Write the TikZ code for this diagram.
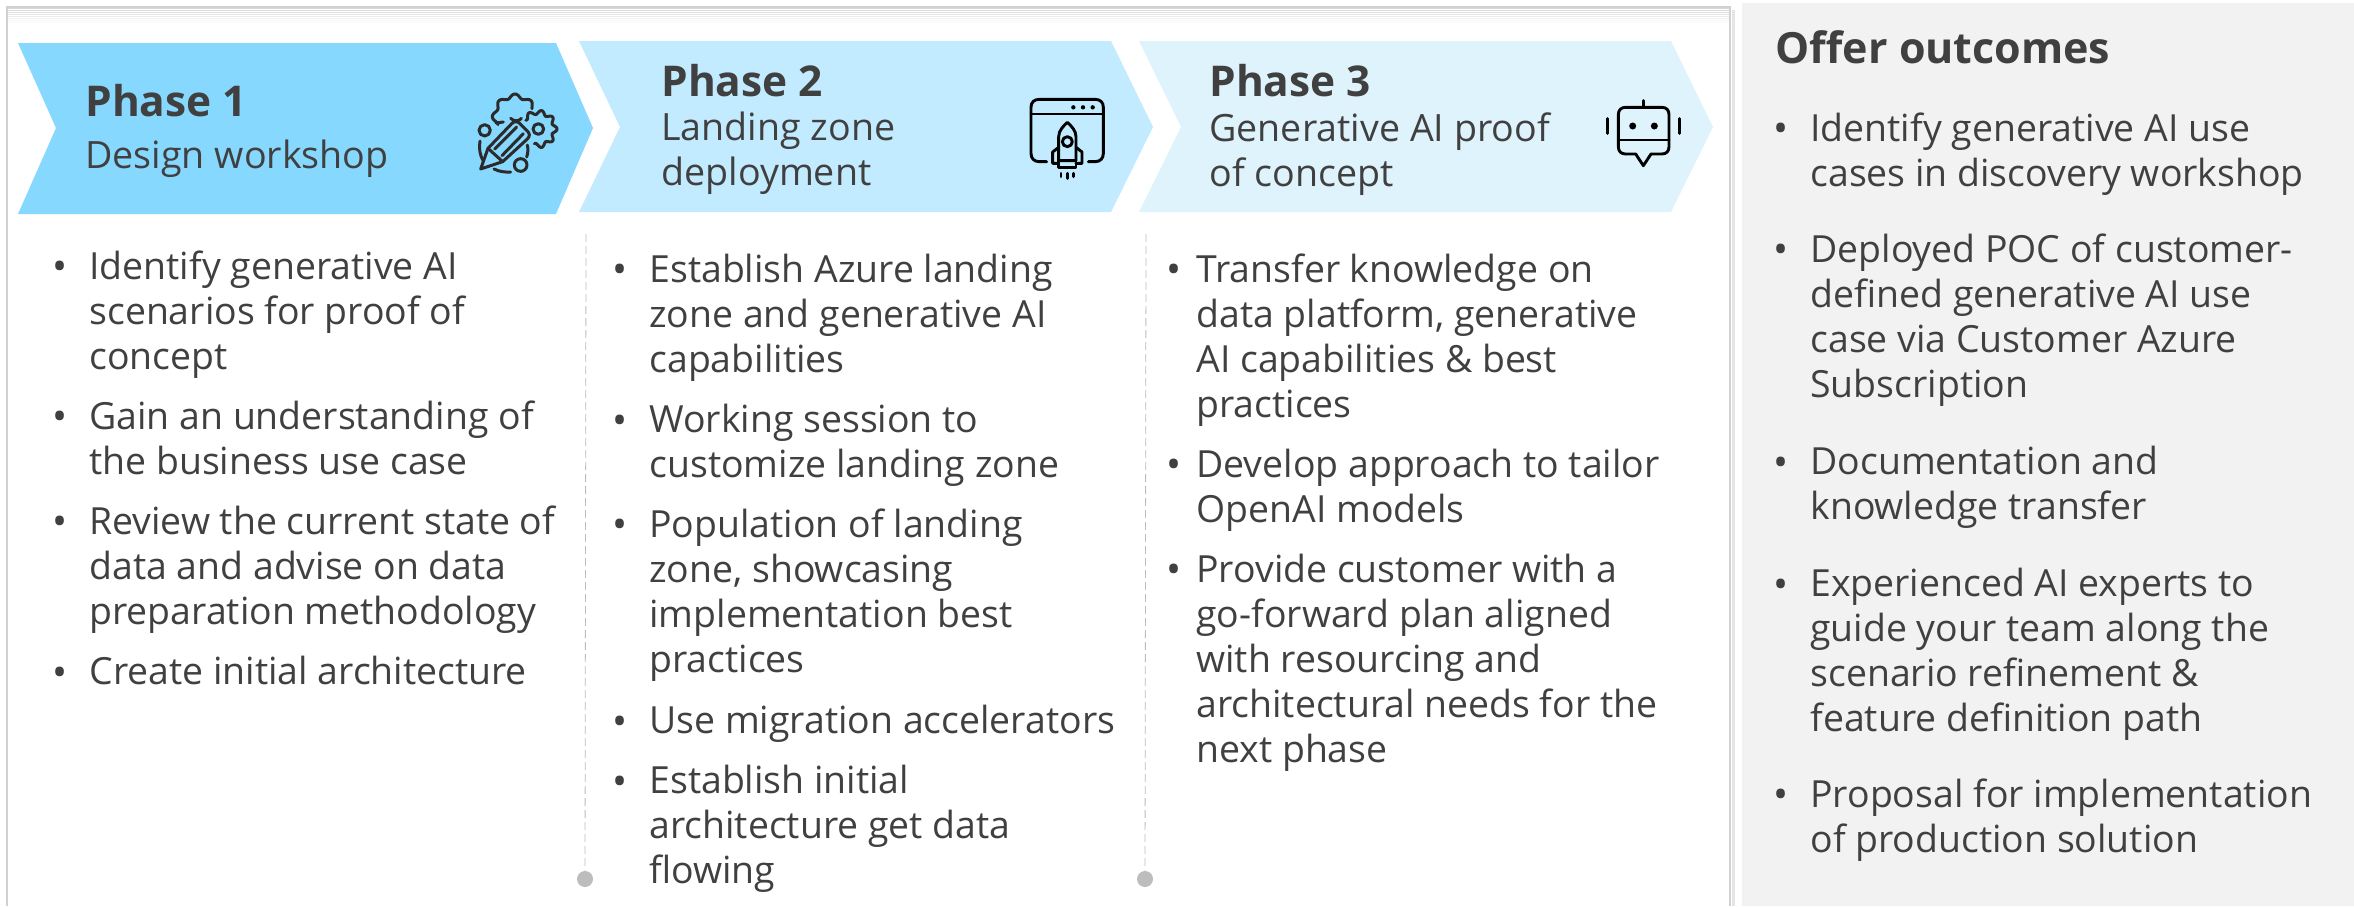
\documentclass[tikz,border=0pt]{standalone}
\usepackage{fontspec}
\setmainfont{Open Sans}
\usetikzlibrary{calc}
\definecolor{txt}{HTML}{404040}
\definecolor{aone}{HTML}{87D8FF}
\definecolor{atwo}{HTML}{C2EBFF}
\definecolor{athree}{HTML}{DFF3FD}
\definecolor{sidebg}{HTML}{F2F2F2}
\definecolor{dotc}{HTML}{BDBDBD}
\definecolor{inkc}{HTML}{2B2B2B}
\tikzset{
  body/.style={anchor=north west,inner sep=0pt,align=left,text=txt,font=\fontsize{18.7pt}{22.5pt}\selectfont},
  bul/.style={anchor=center,inner sep=0pt,text=txt,font=\fontsize{20pt}{22.5pt}\selectfont},
  head/.style={anchor=west,inner sep=0pt,text=txt,font=\fontsize{21.2pt}{25pt}\selectfont\bfseries},
  sub/.style={anchor=north west,inner sep=0pt,align=left,text=txt,font=\fontsize{18.8pt}{22.5pt}\selectfont},
  sep/.style={draw=dotc,line width=0.4pt,dash pattern=on 4pt off 2pt},
  sepdot/.style={circle,fill=dotc,inner sep=0pt,minimum size=8pt},
  ico/.style={line width=1.45pt,line cap=round,line join=round,draw=#1},
  ico/.default=black,
  gearline/.style={ico=inkc,line width=1.5pt},
}
\newcommand{\li}[5][29]{%
  \node[bul] (b#2) at (#3-#1,-#4-6.5) {•};
  \node[body] (t#2) at (#3,-#4+14) {#5};
}
\begin{document}
\begin{tikzpicture}[x=0.5pt,y=0.5pt]
\useasboundingbox (0,0) rectangle (2354,-906);
\fill[white] (0,0) rectangle (2354,-906);
% panels
\foreach \i in {0,...,7}{ \draw[black!\the\numexpr 16-2*\i\relax,line width=0.5pt] (7,-8-2*\i) -- (1730,-8-2*\i); }
\draw[black!18,line width=0.8pt] (7,-906) -- (7,-7) -- (1730,-7) -- (1730,-906);
\draw[black!10,line width=1.5pt] (1733,-10) -- (1733,-906);
\fill[sidebg] (1742,-3) rectangle (2354,-906);
% chevrons
\fill[aone] (18,-43) -- (556,-43) -- (593,-128) -- (556,-214) -- (18,-214) -- (56,-128) -- cycle;
\fill[atwo] (579,-41) -- (1111,-41) -- (1153,-127) -- (1111,-212) -- (579,-212) -- (620,-127) -- cycle;
\fill[athree] (1139,-41) -- (1671,-41) -- (1713,-127) -- (1671,-212) -- (1139,-212) -- (1181,-127) -- cycle;
% headings
\node[head] (h1) at (85,-101) {Phase 1};
\node[sub,anchor=west] (s1) at (85,-159) {Design workshop};
\node[head] (h2) at (661,-81) {Phase 2};
\node[sub] (s2) at (661,-112) {Landing zone\\deployment};
\node[head] (h3) at (1209,-81) {Phase 3};
\node[sub] (s3) at (1209,-112) {Generative AI proof\\of concept};
% separators
\coordinate (a1) at (586,-234);
\node[sepdot] (d1) at (585,-879) {};
\draw[sep] (a1) -- (d1);
\coordinate (a2) at (1146,-234);
\node[sepdot] (d2) at (1145,-879) {};
\draw[sep] (a2) -- (d2);
% column 1
\li{a1}{89}{264.5}{Identify generative AI\\scenarios for proof of\\concept}
\li{a2}{89}{414.5}{Gain an understanding of\\the business use case}
\li{a3}{89}{519.5}{Review the current state of\\data and advise on data\\preparation methodology}
\li{a4}{89}{670}{Create initial architecture}
% column 2
\li{b1}{649}{267.5}{Establish Azure landing\\zone and generative AI\\capabilities}
\li{b2}{649}{418}{Working session to\\customize landing zone}
\li{b3}{649}{522.5}{Population of landing\\zone, showcasing\\implementation best\\practices}
\li{b4}{649}{719}{Use migration accelerators}
\li{b5}{649}{779}{Establish initial\\architecture get data\\flowing}
% column 3
\li[22]{c1}{1196}{267.5}{Transfer knowledge on\\data platform, generative\\AI capabilities \& best\\practices}
\li[22]{c2}{1196}{462.5}{Develop approach to tailor\\OpenAI models}
\li[22]{c3}{1196}{567.5}{Provide customer with a\\go-forward plan aligned\\with resourcing and\\architectural needs for the\\next phase}
% side
\node[head,font=\fontsize{21.5pt}{26pt}\selectfont\bfseries] (sh) at (1775,-47) {Offer outcomes};
\li{d1}{1810}{126}{Identify generative AI use\\cases in discovery workshop}
\li{d2}{1810}{247.5}{Deployed POC of customer-\\defined generative AI use\\case via Customer Azure\\Subscription}
\li{d3}{1810}{460}{Documentation and\\knowledge transfer}
\li{d4}{1810}{582}{Experienced AI experts to\\guide your team along the\\scenario refinement \&\\feature definition path}
\li{d5}{1810}{792}{Proposal for implementation\\of production solution}
% icon: gears and pencil
\begin{scope}[shift={(470,-85)}]\begin{scope}[x=0.16667pt,y=-0.16667pt]
\draw[gearline] plot[smooth,domain=25:205,samples=110] ({135+(62+6*cos(8*\x))*cos(\x)},{95-(62+6*cos(8*\x))*sin(\x)});
\draw[gearline] (122,100) arc[start angle=-140,end angle=-40,x radius=21,y radius=-21];
\draw[gearline] plot[smooth,domain=-105:145,samples=140] ({205+(50+6*cos(9*\x))*cos(\x)},{132-(50+6*cos(9*\x))*sin(\x)});
\draw[gearline] (205,132) circle (16);
\draw[gearline] (44,136) circle (17);
\draw[gearline] (152,240) circle (19);
\draw[gearline] (78,114) -- (100,111);
\draw[gearline] (30,168) .. controls (26,190) and (30,212) .. (40,228);
\draw[gearline] (72,252) .. controls (88,260) and (105,262) .. (122,261);
\draw[gearline] (172,180) .. controls (175,192) and (174,204) .. (170,216);
\draw[gearline] (32,252) -- (54,190) -- (125,116) .. controls (133,108) and (142,108) .. (150,116) -- (172,138) .. controls (180,146) and (180,154) .. (172,162) -- (98,230) -- cycle;
\draw[gearline] (54,190) -- (98,230) (74,192) -- (140,126) (96,212) -- (160,146);
\end{scope}\end{scope}
% icon: rocket in a window
\begin{scope}[shift={(1020,-90)}]\begin{scope}[x=0.16667pt,y=-0.16667pt]
\draw[ico] (80,215) -- (58,215) .. controls (42,215) and (33,205) .. (33,190) -- (33,52) .. controls (33,37) and (42,28) .. (58,28) -- (225,28) .. controls (241,28) and (250,37) .. (250,52) -- (250,190) .. controls (250,205) and (241,215) .. (225,215) -- (205,215);
\draw[ico] (33,72) -- (250,72);
\fill (160,52) circle (6.5) (189,52) circle (6.5) (218,52) circle (6.5);
\draw[ico] (142,97) .. controls (130,108) and (116,122) .. (116,140) -- (116,212) -- (168,212) -- (168,140) .. controls (168,122) and (154,108) .. (142,97) -- cycle;
\draw[ico] (142,155) circle (15);
\draw[ico] (116,172) -- (98,186) -- (98,220) -- (116,220) (168,172) -- (186,186) -- (186,220) -- (168,220);
\draw[ico] (116,212) -- (116,232) -- (168,232) -- (168,212);
\draw[ico] (123,250) -- (123,260) (142,250) -- (142,265) (160,250) -- (160,260);
\end{scope}\end{scope}
% icon: robot
\begin{scope}[shift={(1595,-90)}]\begin{scope}[x=0.16667pt,y=-0.16667pt]
\draw[ico] (145,32) -- (145,52);
\draw[ico] (92,52) -- (200,52) .. controls (214,52) and (222,60) .. (222,74) -- (222,170) .. controls (222,184) and (214,192) .. (200,192) -- (168,192) -- (145,227) -- (122,192) -- (92,192) .. controls (78,192) and (70,184) .. (70,170) -- (70,74) .. controls (70,60) and (78,52) .. (92,52) -- cycle;
\draw[ico] (70,150) -- (222,150);
\fill (113,108) circle (10.5) (178,108) circle (10.5);
\draw[ico] (38,86) -- (38,130) (253,86) -- (253,130);
\end{scope}\end{scope}
\end{tikzpicture}
\end{document}
